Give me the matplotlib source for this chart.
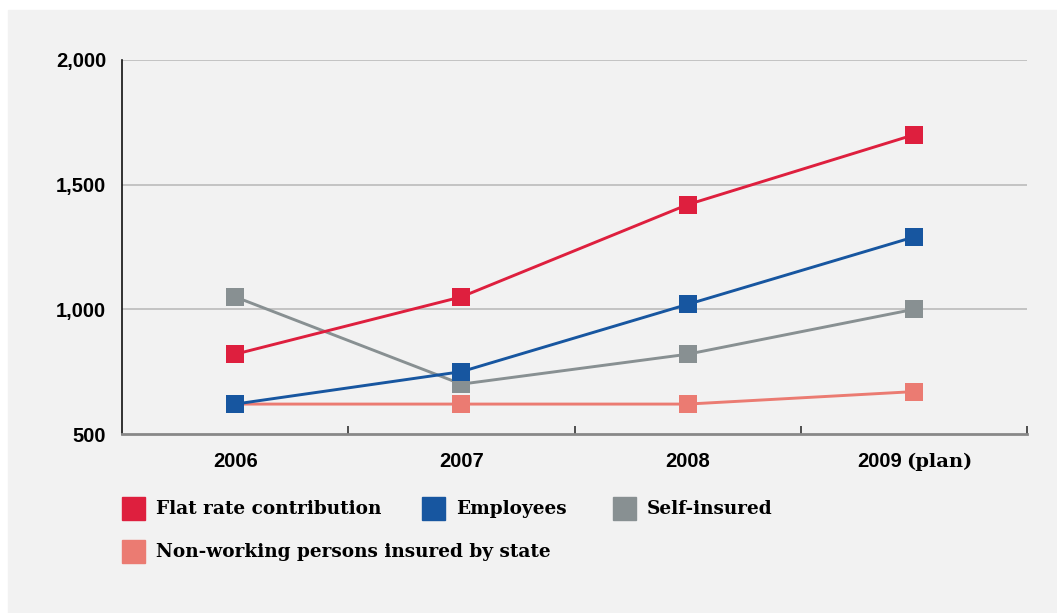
import matplotlib
matplotlib.use("Agg")
import matplotlib.pyplot as plt
from matplotlib.patches import Rectangle

# contributions per insured group, by year
years = ["2006", "2007", "2008", "2009 (plan)"]
flat_rate = [820, 1050, 1420, 1700]
employees = [620, 750, 1020, 1290]
self_insured = [1050, 700, 820, 1000]
non_working = [620, 620, 620, 670]

series_names = ["Flat rate contribution", "Employees", "Self-insured",
                "Non-working persons insured by state"]
series_colors = ["#DE1F3E", "#1756A0", "#889092", "#EB7B72"]

y_ticks = [500, 1000, 1500, 2000]
y_tick_labels = ["500", "1,000", "1,500", "2,000"]

W, H = 1057, 613
fig = plt.figure(figsize=(W / 100, H / 100), dpi=100)
fig.patch.set_facecolor("white")

# grey panel behind everything
fig.patches.append(Rectangle((8 / W, 0), 1 - 8 / W, 1 - 10 / H,
                             transform=fig.transFigure, color="#F2F2F2", zorder=-10))

ax = fig.add_axes([122 / W, 1 - 434 / H, (1027 - 122) / W, (434 - 60) / H])
ax.set_facecolor("none")
ax.set_zorder(1)

x = list(range(len(years)))
all_series = [flat_rate, employees, self_insured, non_working]
# lower series first so the upper ones sit on top
for i in [3, 2, 1, 0]:
    ax.plot(x, all_series[i], color=series_colors[i], lw=2.1, marker="s",
            markersize=12.5, markeredgewidth=0, zorder=3)

ax.set_xlim(-0.5, 3.5)
ax.set_ylim(500, 2000)
ax.set_yticks(y_ticks)
ax.set_yticklabels(y_tick_labels, fontfamily="Liberation Sans", fontweight="bold", fontsize=14.5)
ax.tick_params(axis="y", length=0, pad=11.5)
ax.set_xticks(x)
ax.set_xticklabels([])
ax.tick_params(axis="x", length=0)
ax.set_xticks([0.5, 1.5, 2.5, 3.5], minor=True)
ax.tick_params(axis="x", which="minor", direction="in", length=6, width=1.2, color="#333333")

# year labels; a trailing "(plan)" note is set in the serif face
sans = dict(fontfamily="Liberation Sans", fontweight="bold", fontsize=14.5)
serif = dict(fontfamily="DejaVu Serif", fontweight="bold", fontsize=14)
for xi, label in zip(x, years):
    parts = label.split(" ", 1)
    if len(parts) == 1:
        ax.annotate(label, (xi, 0), xycoords=("data", "axes fraction"),
                    xytext=(0, -33), textcoords="offset pixels",
                    ha="center", va="baseline", **sans)
    else:
        ax.annotate(parts[0], (xi, 0), xycoords=("data", "axes fraction"),
                    xytext=(-12, -33), textcoords="offset pixels",
                    ha="right", va="baseline", **sans)
        ax.annotate(parts[1], (xi, 0), xycoords=("data", "axes fraction"),
                    xytext=(-8, -33), textcoords="offset pixels",
                    ha="left", va="baseline", **serif)

for yv in y_ticks[1:]:
    ax.axhline(yv, color="#BBBBBB", lw=1.2, zorder=1)

for s in ["top", "right"]:
    ax.spines[s].set_visible(False)
ax.spines["left"].set_color("#111111")
ax.spines["left"].set_linewidth(1.2)
ax.spines["bottom"].set_color("#888888")
ax.spines["bottom"].set_linewidth(2.0)

# legend built from patches and text
legend_pos = [(122, 497), (422, 497), (613, 497), (122, 540)]
for name, col, (lx, ly) in zip(series_names, series_colors, legend_pos):
    fig.patches.append(Rectangle((lx / W, 1 - (ly + 23) / H), 23 / W, 23 / H,
                                 transform=fig.transFigure, color=col, zorder=2))
    fig.text((lx + 34) / W, 1 - (ly + 12) / H, name, fontfamily="DejaVu Serif",
             fontweight="bold", fontsize=13.3, va="center", ha="left")

fig.savefig("out.png", dpi=100)
